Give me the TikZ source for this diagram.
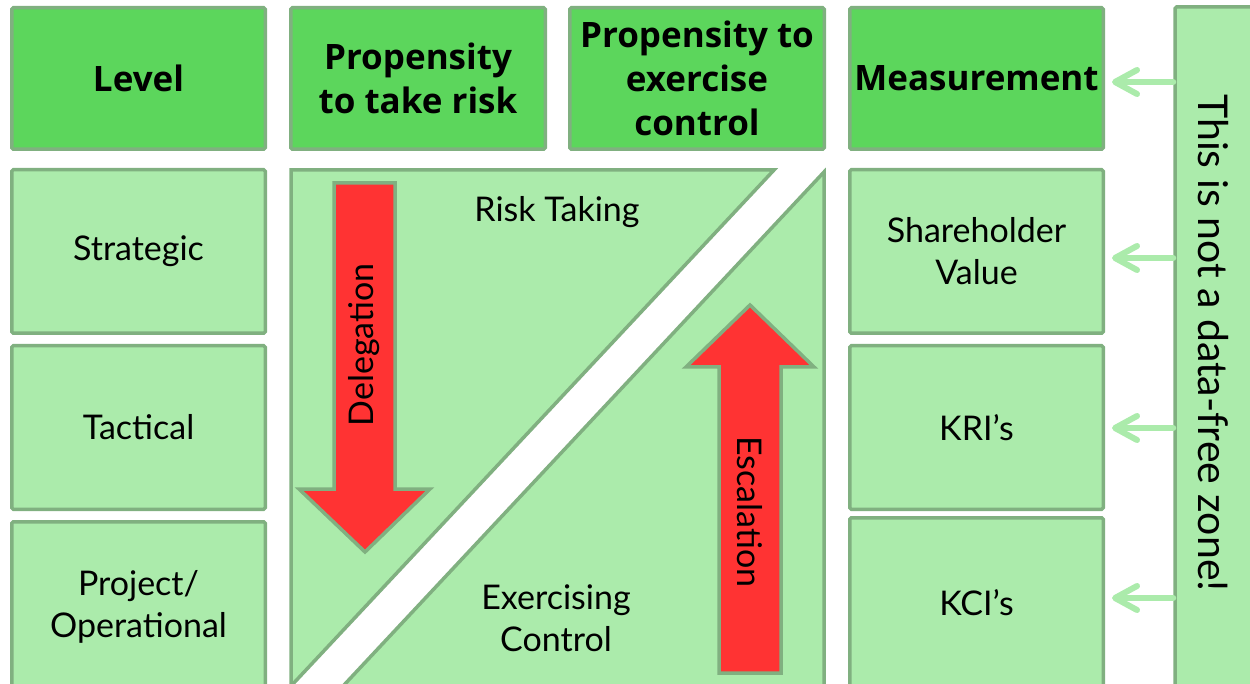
\documentclass[tikz,border=0pt]{standalone}
\usepackage{fontspec}
\setmainfont{Lato}
\newfontfamily\hdrfont{Open Sans}
\usetikzlibrary{arrows.meta}
\definecolor{hdr}{RGB}{92,214,92}
\definecolor{lite}{RGB}{171,235,171}
\definecolor{edge}{RGB}{128,176,128}
\definecolor{redf}{RGB}{255,51,51}
\begin{document}
\begin{tikzpicture}[x=1pt,y=-1pt,
  box/.style={draw=edge,line width=3.5pt,rounded corners=1.5pt,inner sep=0pt,align=center,
              font=\fontsize{34}{42}\selectfont},
  hbox/.style={box,fill=hdr,minimum height=141.5pt,font=\hdrfont\bfseries\fontsize{35}{44}\selectfont},
  lbox/.style={box,fill=lite,minimum height=163.5pt},
  c1/.style={minimum width=253.5pt},
  c2/.style={minimum width=254.5pt},
  c3/.style={minimum width=254.5pt},
  c4/.style={minimum width=253.5pt},
  bodytxt/.style={inner sep=0pt,align=center,font=\fontsize{34}{42}\selectfont},
  tri/.style={draw=edge,line width=3.5pt,line join=miter},
  bigarrow/.style={draw=edge,line width=3.5pt,fill=redf,line join=miter},
  zarrow/.style={draw=lite,line width=6pt,line cap=round,
                 -{Straight Barb[length=22pt,width=24pt,round]}}]
\useasboundingbox (0,0) rectangle (1250,684);
\clip (0,0) rectangle (1250,684);
% header row
\node[hbox,c1] (lev) at (138.5,78.5) {Level};
\node[hbox,c2] (ptr) at (418,78.5) {Propensity\\to take risk};
\node[hbox,c3] (pec) at (697,78.5) {Propensity to\\exercise\\control};
\node[hbox,c4] (meas) at (976.5,78.5) {Measurement};
% level column
\node[lbox,c1] (strat) at (138.5,251.5) {Strategic};
\node[lbox,c1] (tact) at (138.5,427.5) {Tactical};
\node[lbox,c1,minimum height=170.5pt] (proj) at (138.5,607) {Project/\\Operational};
% measurement column
\node[lbox,c4] (shv) at (976.5,251.5) {Shareholder\\Value};
\node[lbox,c4] (kri) at (976.5,427.5) {KRI’s};
\node[lbox,c4,minimum height=170.5pt] (kci) at (976.5,603) {KCI’s};
% middle triangles
\draw[tri,fill=lite] (291,170) -- (774,170) -- (291,686) -- cycle;
\draw[tri,fill=lite] (824,172) -- (824,700) -- (330,700) -- cycle;
\node[bodytxt] (rt) at (557,212) {Risk Taking};
\node[bodytxt] (ec) at (556,618) {Exercising\\Control};
% red arrows
\draw[bigarrow] (334,183) -- (395,183) -- (395,489) -- (430,489) -- (365,552)
   -- (299,489) -- (334,489) -- cycle;
\node[bodytxt,rotate=90] (del) at (364.5,345) {Delegation};
\draw[bigarrow] (719,673) -- (781,673) -- (781,367) -- (814,367) -- (750,305)
   -- (686,367) -- (719,367) -- cycle;
\node[bodytxt,rotate=-90] (esc) at (750,512) {Escalation};
% zone box
\node[box,fill=lite,minimum width=85pt,minimum height=693pt] (zone) at (1217.5,353.5) {};
\node[bodytxt,rotate=-90,font=\fontsize{41}{48}\selectfont] (ztxt) at (1213,343) {This is not a data-free zone!};
% arrows from zone
\draw[zarrow] ([shift={(0,3.5)}]meas.east -| zone.west) -- ([shift={(7,3.5)}]meas.east);
\draw[zarrow] ([shift={(0,6.5)}]shv.east -| zone.west) -- ([shift={(7,6.5)}]shv.east);
\draw[zarrow] ([shift={(0,0.5)}]kri.east -| zone.west) -- ([shift={(7,0.5)}]kri.east);
\draw[zarrow] ([shift={(0,-5)}]kci.east -| zone.west) -- ([shift={(7,-5)}]kci.east);
\end{tikzpicture}
\end{document}
